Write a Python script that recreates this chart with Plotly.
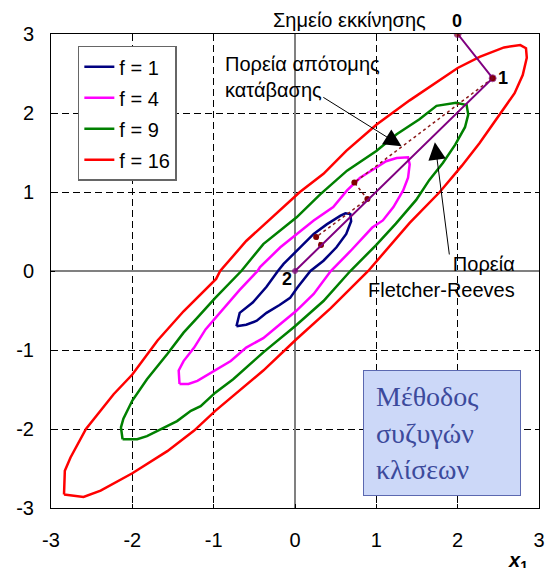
import plotly.graph_objects as go

# ---------------- data ----------------
f1_x = [-0.72, -0.60, -0.47, -0.35, -0.19, -0.06, 0.03, 0.19, 0.35, 0.51, 0.63, 0.69, 0.68, 0.62,
        0.56, 0.39, 0.23, 0.14, 0.02, -0.14, -0.21, -0.35, -0.52, -0.68, -0.72]
f1_y = [-0.70, -0.68, -0.63, -0.53, -0.43, -0.34, -0.21, 0.00, 0.13, 0.30, 0.47, 0.63, 0.72, 0.73,
        0.70, 0.59, 0.47, 0.38, 0.25, 0.09, 0.00, -0.20, -0.40, -0.53, -0.70]

f4_x = [-1.42, -1.31, -1.20, -1.12, -0.98, -0.79, -0.60, -0.39, -0.18, 0.01, 0.23, 0.44, 0.68, 0.95,
        1.08, 1.21, 1.33, 1.39, 1.41, 1.39, 1.25, 1.12, 1.00, 0.80, 0.64, 0.47, 0.23, 0.02, -0.18,
        -0.43, -0.46, -0.68, -0.98, -1.10, -1.24, -1.37, -1.43, -1.42]
f4_y = [-1.43, -1.43, -1.39, -1.34, -1.26, -1.14, -0.97, -0.85, -0.67, -0.51, -0.29, 0.00, 0.25, 0.55,
        0.64, 0.81, 1.02, 1.18, 1.35, 1.44, 1.43, 1.39, 1.31, 1.18, 1.02, 0.81, 0.64, 0.47, 0.30,
        0.05, 0.00, -0.24, -0.59, -0.74, -0.97, -1.14, -1.26, -1.43]

f9_x = [-2.12, -1.94, -1.82, -1.61, -1.45, -1.28, -1.16, -0.98, -0.76, -0.39, 0.00, 0.35, 0.68, 1.00,
        1.24, 1.49, 1.65, 1.82, 1.97, 2.09, 2.13, 2.11, 1.98, 1.74, 1.53, 1.25, 1.00, 0.64, 0.31,
        0.02, -0.39, -0.66, -0.98, -1.20, -1.37, -1.57, -1.82, -2.00, -2.11, -2.14, -2.12]
f9_y = [-2.13, -2.13, -2.09, -1.98, -1.90, -1.77, -1.71, -1.54, -1.37, -1.03, -0.70, -0.38, 0.00, 0.33,
        0.60, 0.90, 1.15, 1.37, 1.60, 1.82, 1.98, 2.10, 2.13, 2.09, 1.92, 1.73, 1.52, 1.27, 0.97,
        0.68, 0.34, 0.00, -0.34, -0.59, -0.78, -1.05, -1.37, -1.64, -1.87, -1.98, -2.13]

f16_x = [-2.84, -2.60, -2.39, -2.00, -1.57, -1.24, -0.98, -0.76, -0.39, 0.01, 0.44, 0.90, 1.41, 1.78,
         2.05, 2.27, 2.52, 2.70, 2.80, 2.85, 2.84, 2.77, 2.57, 2.27, 2.00, 1.41, 1.00, 0.63, 0.35,
         0.06, -0.60, -0.92, -0.97, -1.37, -1.69, -2.00, -2.23, -2.57, -2.76, -2.83, -2.84]
f16_y = [-2.83, -2.86, -2.78, -2.56, -2.28, -2.02, -1.77, -1.58, -1.26, -0.87, -0.47, 0.00, 0.61, 1.00,
         1.33, 1.62, 1.98, 2.25, 2.48, 2.70, 2.82, 2.86, 2.83, 2.71, 2.57, 2.16, 1.85, 1.52, 1.23,
         1.00, 0.38, 0.00, -0.10, -0.51, -0.88, -1.31, -1.56, -2.00, -2.36, -2.53, -2.83]

# Fletcher-Reeves path: points 0 -> 1 -> 2
fr_x = [2.00, 2.43, 0.00]
fr_y = [3.00, 2.44, 0.00]

# steepest-descent path (from point 1)
sd_x = [2.43, 0.73, 0.89, 0.26, 0.32]
sd_y = [2.44, 1.12, 0.91, 0.43, 0.33]

tick_vals = [-3, -2, -1, 0, 1, 2, 3]
tick_text = ["-3", "-2", "-1", "0", "1", "2", "3"]

level_names = ["f = 1", "f = 4", "f = 9", "f = 16"]

# ---------------- figure ----------------
FONT = "Arial, Liberation Sans, sans-serif"
contours = [(f1_x, f1_y), (f4_x, f4_y), (f9_x, f9_y), (f16_x, f16_y)]
line_colors = ["#000080", "#ff00ff", "#008000", "#ff0000"]

fig = go.Figure()
for (xs, ys), name, col in zip(contours, level_names, line_colors):
    fig.add_trace(go.Scatter(x=xs, y=ys, mode="lines", name=name,
                             legendgroup=name,
                             line=dict(color=col, width=2.5)))

fig.add_trace(go.Scatter(x=sd_x, y=sd_y, mode="lines+markers", showlegend=False,
                         line=dict(color="#8b1a1a", width=1.5, dash="dot"),
                         marker=dict(color="#800000", size=6)))
fig.add_trace(go.Scatter(x=fr_x, y=fr_y, mode="lines+markers", showlegend=False,
                         line=dict(color="#800080", width=2),
                         marker=dict(color=["#800000", "#800000", "#800080"], size=[7, 7, 5])))

axis_common = dict(range=[-3, 3], tickvals=tick_vals, ticktext=tick_text, automargin=False,
                   showgrid=True, gridcolor="black", gridwidth=1, griddash="7px,4px",
                   zeroline=True, zerolinecolor="#808080", zerolinewidth=1.5,
                   showline=True, mirror=True, linecolor="black", linewidth=1,
                   ticks="inside", ticklen=4, tickcolor="black",
                   tickfont=dict(family=FONT, size=20, color="black"))

fig.update_layout(
    width=545, height=568,
    margin=dict(l=51, r=6, t=34, b=60, autoexpand=False),
    paper_bgcolor="white", plot_bgcolor="white",
    showlegend=True,
    legend=dict(x=0.055, y=0.975, xanchor="left", yanchor="top",
                bgcolor="white", bordercolor="#666666", borderwidth=1.5,
                font=dict(family=FONT, size=20, color="black"),
                tracegroupgap=2),
    xaxis=dict(**axis_common, ticklabelstandoff=14),
    yaxis=dict(**axis_common, ticklabelstandoff=12),
)

annots = [
    dict(x=-0.10, y=-0.10, text="<b>2</b>", xanchor="center", yanchor="middle",
         font=dict(family=FONT, size=18, color="black")),
    dict(x=2.56, y=2.44, text="<b>1</b>", xanchor="center", yanchor="middle",
         font=dict(family=FONT, size=18, color="black")),
    dict(x=-0.88, y=2.45, text="Πορεία απότομης<br>κατάβασης", xanchor="left", yanchor="middle",
         align="left", font=dict(family=FONT, size=20, color="black")),
    dict(x=2.73, y=-0.08, text="Πορεία<br>Fletcher-Reeves", xanchor="right", yanchor="middle",
         align="right", font=dict(family=FONT, size=20, color="black")),
]
for a in annots:
    fig.add_annotation(xref="x", yref="y", showarrow=False, **a)

# labels above the plotting area
fig.add_annotation(xref="paper", yref="paper", x=0.611, y=1.030, xanchor="center", yanchor="middle",
                   text="Σημείο εκκίνησης", showarrow=False,
                   font=dict(family=FONT, size=20, color="black"))
fig.add_annotation(xref="paper", yref="paper", x=0.832, y=1.027, xanchor="center", yanchor="middle",
                   text="<b>0</b>", showarrow=False,
                   font=dict(family=FONT, size=18, color="black"))

# arrows
fig.add_annotation(xref="x", yref="y", axref="x", ayref="y", x=1.31, y=1.58, ax=0.33, ay=2.21,
                   text="", showarrow=True, arrowhead=2, arrowsize=3.5, arrowwidth=1, arrowcolor="black")
fig.add_annotation(xref="x", yref="y", axref="x", ayref="y", x=1.72, y=1.63, ax=1.90, ay=0.19,
                   text="", showarrow=True, arrowhead=2, arrowsize=3.5, arrowwidth=1, arrowcolor="black")

# method box
fig.add_annotation(xref="paper", yref="paper", x=0.801, y=0.158, xanchor="center", yanchor="middle",
                   text="Μέθοδος<br>συζυγών<br>κλίσεων", showarrow=False, align="left",
                   width=132, height=100, borderpad=12,
                   bgcolor="#ccd8f8", bordercolor="#5b68b0", borderwidth=1,
                   font=dict(family="Liberation Serif, Times New Roman, serif", size=28, color="#3c4a9c"))

# axis title x1
fig.add_annotation(xref="paper", yref="paper", x=0.957, y=-0.112, xanchor="center", yanchor="middle",
                   text="<b><i>x</i></b><sub><b>1</b></sub>", showarrow=False,
                   font=dict(family=FONT, size=20, color="black"))

fig.write_html("out.html", config={"displayModeBar": False},
               post_script="document.body.style.margin='0px';document.body.style.overflow='hidden';")
